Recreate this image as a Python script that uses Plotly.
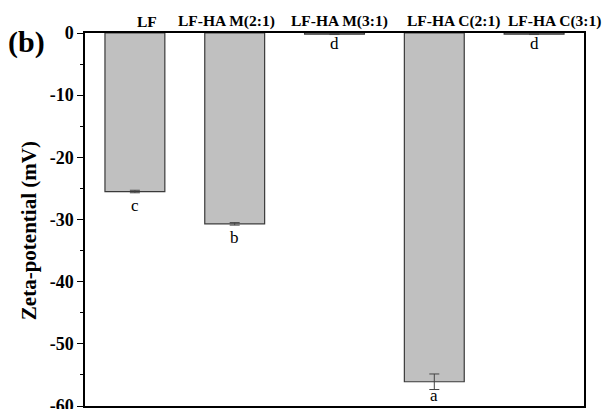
import plotly.graph_objects as go

categories = ["LF", "LF-HA M(2:1)", "LF-HA M(3:1)", "LF-HA C(2:1)", "LF-HA C(3:1)"]
zeta = [-25.5, -30.7, -0.2, -56.1, -0.2]
zeta_err = [0.2, 0.2, 0.05, 1.25, 0.05]
letters = ["c", "b", "d", "a", "d"]
y_ticks = [0, -10, -20, -30, -40, -50, -60]

# styling offsets (pixels) for the category labels and the letter labels
cat_label_shift = [12, -8, 5, 19, 20]
letter_shift = [-1, -1, 3, 6, 3]

serif = "Liberation Serif, Times New Roman, serif"

fig = go.Figure()
fig.add_trace(go.Bar(
    x=categories, y=zeta, width=0.6,
    marker=dict(color="#c0c0c0", line=dict(color="#3a3a3a", width=1.2)),
    error_y=dict(type="data", array=zeta_err, visible=True,
                 color="#444444", thickness=1, width=5),
))

for c, v, e, t, s in zip(categories, zeta, zeta_err, letters, letter_shift):
    fig.add_annotation(x=c, y=v - e, text=t, showarrow=False,
                       yanchor="top", yshift=s,
                       font=dict(family=serif, size=17, color="black"))

for c, s in zip(categories, cat_label_shift):
    fig.add_annotation(x=c, xref="x", y=1, yref="paper", text="<b>%s</b>" % c,
                       showarrow=False, yanchor="bottom", xanchor="center",
                       xshift=s, yshift=1,
                       font=dict(family=serif, size=15.5, color="black"))

fig.add_annotation(xref="paper", yref="paper", x=-0.118, y=0.975,
                   text="<b>(b)</b>", showarrow=False, xanchor="center", yanchor="middle",
                   font=dict(family=serif, size=30, color="black"))

fig.add_annotation(xref="paper", yref="paper", x=-0.112, y=0.469,
                   text="<b>Zeta-potential (mV)</b>", showarrow=False, textangle=-90,
                   xanchor="center", yanchor="middle",
                   font=dict(family=serif, size=21, color="black"))

fig.update_layout(
    width=603, height=409,
    margin=dict(l=85, r=19, t=33, b=3),
    plot_bgcolor="white", paper_bgcolor="white",
    showlegend=False,
    xaxis=dict(side="top", range=[-0.5, 4.5], showline=True, mirror=True,
               linecolor="black", linewidth=1.5, ticks="", automargin=False,
               showticklabels=False, showgrid=False, zeroline=False),
    yaxis=dict(range=[-60, 0], showline=True, mirror=True, automargin=False,
               linecolor="black", linewidth=1.5,
               ticks="outside", ticklen=6, tickwidth=1.3, tickcolor="black",
               tickvals=y_ticks, ticktext=["<b>%d</b>" % v for v in y_ticks],
               ticklabeloverflow="allow",
               tickfont=dict(family=serif, size=18, color="black"),
               minor=dict(ticks="outside", ticklen=3, tickwidth=1.2, tickcolor="black", dtick=5),
               showgrid=False, zeroline=False),
)

fig.write_html("out.html", config={"displayModeBar": False},
               post_script="document.body.style.margin='0';document.body.style.overflow='hidden';")
